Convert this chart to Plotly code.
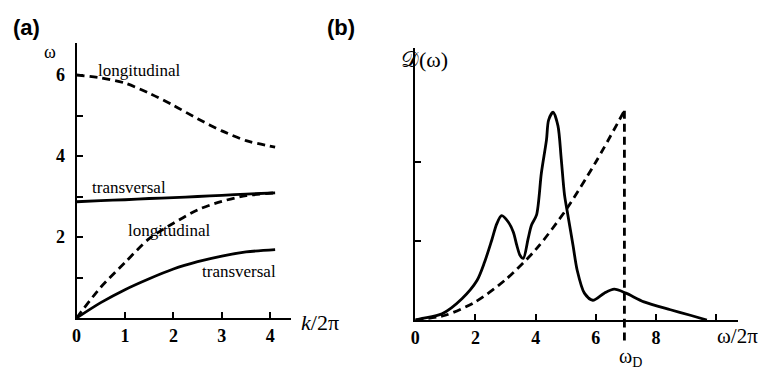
import plotly.graph_objects as go

W, H = 763, 372

# ---------- Panel (a): dispersion relations ----------
k_vals = [0, 0.5, 1, 1.5, 2, 2.5, 3, 3.5, 4.1]
long_upper = [6.0, 5.93, 5.8, 5.55, 5.25, 4.92, 4.62, 4.38, 4.22]
trans_upper = [2.87, 2.9, 2.92, 2.95, 2.97, 3.0, 3.03, 3.06, 3.09]
long_lower = [0, 0.76, 1.37, 1.96, 2.34, 2.67, 2.88, 3.02, 3.09]
trans_lower = [0, 0.38, 0.7, 0.97, 1.21, 1.39, 1.53, 1.63, 1.69]

a_xticks = [0, 1, 2, 3, 4]
a_xticktext = ["0", "1", "2", "3", "4"]
a_yticks = [1, 2, 3, 4, 5, 6]
a_yticktext = ["", "2", "", "4", "", "6"]

# ---------- Panel (b): density of states ----------
w_dos = [0, 0.23, 0.89, 1.55, 2.05, 2.3, 2.54, 2.71, 2.87, 3.09, 3.26, 3.37, 3.48,
         3.59, 3.75, 3.86, 4.03, 4.19, 4.36, 4.43, 4.58, 4.74, 4.85, 4.96, 5.07,
         5.24, 5.38, 5.62, 5.9, 6.28, 6.61, 7.0, 7.6, 8.48, 9.14, 9.69]
d_dos = [0, 0.02, 0.08, 0.27, 0.5, 0.73, 1.01, 1.22, 1.32, 1.24, 1.11, 0.95, 0.82,
         0.78, 1.03, 1.20, 1.33, 1.86, 2.28, 2.53, 2.63, 2.46, 2.04, 1.58, 1.33,
         0.95, 0.63, 0.34, 0.25, 0.34, 0.39, 0.34, 0.23, 0.13, 0.06, 0]
w_debye = [0, 1, 2, 3, 4, 5, 6, 6.95]
d_debye = [0, 0.06, 0.23, 0.51, 0.89, 1.39, 2.0, 2.65]
omega_D = 6.95

b_xticks = [0, 2, 4, 6, 8, 10]
b_xticktext = ["0", "2", "4", "6", "8", ""]
b_yticks = [1, 2]
b_yticktext = ["", ""]

SERIF = "Liberation Serif, Times New Roman, serif"
LW = 2.8
DASH = "8px,5px"

fig = go.Figure()

def line(x, y, dash=None, xa="x", ya="y"):
    fig.add_trace(go.Scatter(
        x=x, y=y, mode="lines", xaxis=xa, yaxis=ya, showlegend=False,
        line=dict(color="black", width=LW, dash=dash, shape="spline", smoothing=0.8),
        hoverinfo="skip"))

line(k_vals, long_upper, DASH)
line(k_vals, trans_upper)
line(k_vals, long_lower, DASH)
line(k_vals, trans_lower)

line(w_dos, d_dos, None, "x2", "y2")
line(w_debye, d_debye, DASH, "x2", "y2")
fig.add_trace(go.Scatter(
    x=[omega_D, omega_D], y=[d_debye[-1], 0], mode="lines", xaxis="x2", yaxis="y2",
    showlegend=False, line=dict(color="black", width=LW, dash=DASH), hoverinfo="skip"))

# extension of the omega_D marker below the axis
fig.add_shape(type="line", xref="x2", yref="y2 domain", x0=omega_D, x1=omega_D,
              y0=-0.075, y1=0, line=dict(color="black", width=LW, dash=DASH))

tickfont = dict(family=SERIF, size=18, color="black", weight="bold")
axcommon = dict(showline=True, linecolor="black", linewidth=2, ticks="inside",
                ticklen=6, tickwidth=2, tickcolor="black", showgrid=False,
                zeroline=False, tickfont=tickfont, fixedrange=True)

fig.update_layout(
    width=W, height=H, margin=dict(l=0, r=0, t=0, b=0),
    paper_bgcolor="white", plot_bgcolor="white",
    xaxis=dict(domain=[72 / W, 288 / W], range=[0, 4.43], anchor="y",
               tickmode="array", tickvals=a_xticks, ticktext=a_xticktext, **axcommon),
    yaxis=dict(domain=[54 / H, 329 / H], range=[0, 6.79], anchor="x",
               tickmode="array", tickvals=a_yticks, ticktext=a_yticktext,
               ticklabelstandoff=6, **axcommon),
    xaxis2=dict(domain=[413 / W, 738 / W], range=[0, 10.73], anchor="y2",
                tickmode="array", tickvals=b_xticks, ticktext=b_xticktext, **axcommon),
    yaxis2=dict(domain=[52 / H, 324 / H], range=[0, 3.443], anchor="x2",
                tickmode="array", tickvals=b_yticks, ticktext=b_yticktext, **axcommon),
)

def ann(text, x, y, xref="paper", yref="paper", size=14, family=SERIF, weight=None):
    if xref == "paper":
        x = x / W
    if yref == "paper":
        y = 1 - y / H
    font = dict(family=family, size=size, color="black")
    if weight:
        font["weight"] = weight
    fig.add_annotation(text=text, x=x, y=y, xref=xref, yref=yref, showarrow=False,
                       font=font, xanchor="center", yanchor="middle")

# curve labels (data coordinates)
ann("longitudinal", 1.29, 6.12, "x", "y", size=17)
ann("transversal", 1.09, 3.22, "x", "y", size=17)
ann("longitudinal", 1.91, 2.17, "x", "y", size=17)
ann("transversal", 3.36, 1.14, "x", "y", size=17)

# axis labels
ann("ω", 45, 52, size=18)
ann("<i>k</i>/2π", 317, 322, size=22)
ann("ω/2π", 737, 336, size=21)
ann("ω<sub>D</sub>", 630, 357, size=20)
ann("𝒟(ω)", 422, 60, size=22)

# panel letters
ann("(a)", 22, 27, size=22, family="Liberation Sans", weight="bold")
ann("(b)", 338, 27, size=22, family="Liberation Sans", weight="bold")

fig.write_html("out.html")
